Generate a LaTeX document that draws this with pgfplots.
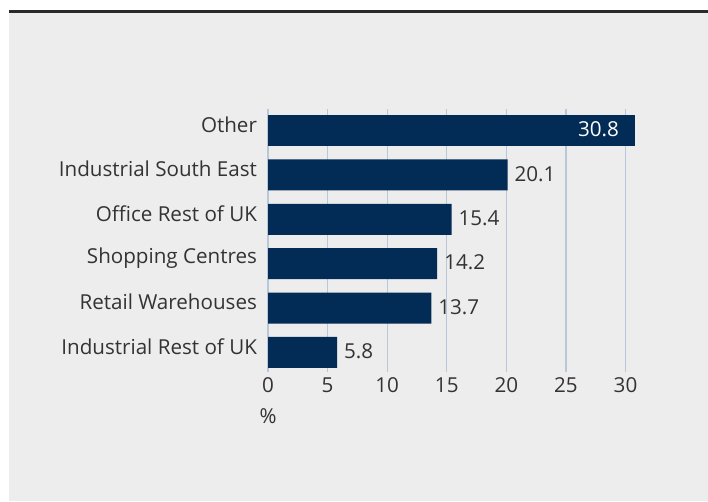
\documentclass[border=0pt]{standalone}
\usepackage{pgfplots}
\pgfplotsset{compat=1.18}
\usepackage{fontspec}
\setmainfont{Open Sans}
\definecolor{bgc}{HTML}{EDEDED}
\definecolor{barc}{HTML}{022B55}
\definecolor{gridc}{HTML}{B8C7DA}
\definecolor{txtc}{HTML}{333333}
\definecolor{topc}{HTML}{2A2A2A}
\newcommand{\fs}{\fontsize{20.6pt}{24pt}\selectfont}
\begin{document}
\fs
\begin{tikzpicture}[x=1pt,y=1pt]
\fill[white] (0,0) rectangle (708,501);
\fill[bgc] (9,0) rectangle (708,488);
\fill[topc] (9,488) rectangle (708,491);
\begin{axis}[
  at={(268pt,129pt)}, anchor=south west,
  x=11.917pt, y=44.4pt,
  xmin=0, xmax=31, ymin=-0.44, ymax=5.48,
  xbar, bar width=31pt, bar shift=0pt,
  axis line style={draw=none},
  major tick length=0pt,
  xtick={0,5,10,15,20,25,30},
  ytick={0,1,2,3,4,5},
  yticklabels={Industrial Rest of UK,Retail Warehouses,Shopping Centres,Office Rest of UK,Industrial South East,Other},
  xmajorgrids, grid style={gridc, line width=1.2pt},
  tick label style={font=\fs, text=txtc},
  /pgf/number format/assume math mode=true,
  yticklabel style={xshift=-4pt, yshift=6pt},
  xticklabel style={yshift=1.5pt},
  xlabel={\%},
  xlabel style={at={(axis description cs:0,0)}, anchor=center, yshift=-44pt, font=\fs, text=txtc},
  clip=false,
]
\addplot[fill=barc, draw=none,
  nodes near coords, nodes near coords align=horizontal,
  every node near coord/.append style={font=\fs, text=txtc, anchor=west, xshift=0pt, yshift=1pt},
  /pgf/number format/.cd, fixed, precision=1, fixed zerofill, assume math mode=true]
  coordinates {(20.1,4) (15.4,3) (14.2,2) (13.7,1) (5.8,0)};
\addplot[fill=barc, draw=none,
  nodes near coords, nodes near coords align=horizontal,
  every node near coord/.append style={font=\fs, text=white, anchor=east, xshift=-9pt, yshift=1pt},
  /pgf/number format/.cd, fixed, precision=1, fixed zerofill, assume math mode=true]
  coordinates {(30.8,5)};
\end{axis}
\end{tikzpicture}
\end{document}
